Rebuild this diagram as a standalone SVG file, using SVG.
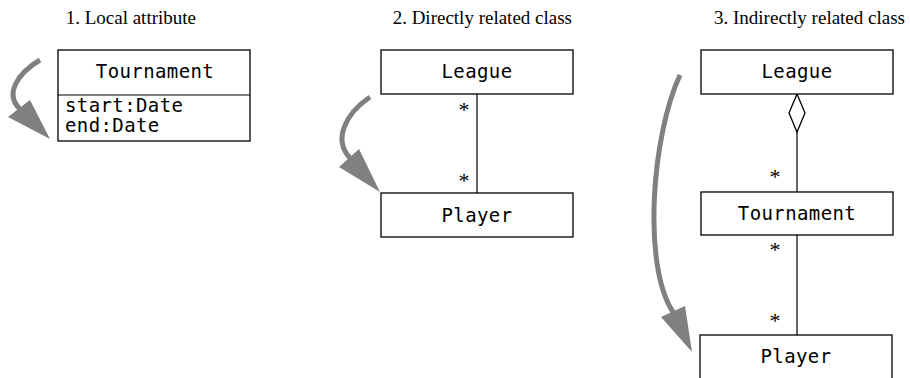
<svg xmlns="http://www.w3.org/2000/svg" width="910" height="378" viewBox="0 0 910 378">
<style>
.title{font-family:"Liberation Serif","Times New Roman",serif;font-size:19px;text-anchor:end;fill:#000}
.mono{font-family:"DejaVu Sans Mono","Liberation Mono",monospace;font-size:19px;letter-spacing:0.4px;fill:#000}
.mid{text-anchor:middle}
.box{fill:#fff;stroke:#000;stroke-width:1.3}
.assoc{stroke:#000;stroke-width:1.2;fill:none}
.mult{font-family:"Liberation Serif","Times New Roman",serif;font-size:22px;text-anchor:middle;fill:#000}
.flow{stroke:#808080;stroke-width:5;fill:none}
.head{fill:#808080}
</style>
<rect width="910" height="378" fill="#fff"/>
<text class="title" x="196" y="24">1. Local attribute</text>
<text class="title" x="572" y="24">2. Directly related class</text>
<text class="title" x="905" y="24">3. Indirectly related class</text>

<g id="connectors">
  <line class="assoc" x1="477" y1="94" x2="477" y2="193"/>
  <text class="mult" x="464" y="117">*</text>
  <text class="mult" x="464" y="188">*</text>
  <polygon class="box" points="797,94 805,113 797,132 789,113"/>
  <line class="assoc" x1="797" y1="132" x2="797" y2="192"/>
  <line class="assoc" x1="797" y1="235" x2="797" y2="335"/>
  <text class="mult" x="775" y="184">*</text>
  <text class="mult" x="775" y="257">*</text>
  <text class="mult" x="775" y="328">*</text>
  <path class="flow" d="M40,60 C18,73 4,94 20,109"/>
  <polygon class="head" points="8,117 30,100 50,139"/>
  <path class="flow" d="M370,97 C345,114 333,140 350,158"/>
  <polygon class="head" points="339,167 359,149 380,192"/>
  <path class="flow" d="M680,75 C652,135 642,265 673,312"/>
  <polygon class="head" points="661,317 685,306 692,352"/>
</g>

<g id="tournament1">
  <rect class="box" x="58" y="50" width="192" height="91"/>
  <line class="assoc" x1="58" y1="95" x2="250" y2="95"/>
  <text class="mono mid" x="155" y="78">Tournament</text>
  <text class="mono" x="65" y="112">start:Date</text>
  <text class="mono" x="65" y="132">end:Date</text>
</g>

<g id="league2">
  <rect class="box" x="381" y="50" width="192" height="44"/>
  <text class="mono mid" x="477" y="78">League</text>
</g>
<g id="player2">
  <rect class="box" x="381" y="193" width="192" height="44"/>
  <text class="mono mid" x="477" y="222">Player</text>
</g>

<g id="league3">
  <rect class="box" x="701" y="50" width="192" height="44"/>
  <text class="mono mid" x="797" y="78">League</text>
</g>
<g id="tournament3">
  <rect class="box" x="701" y="192" width="192" height="43"/>
  <text class="mono mid" x="797" y="220">Tournament</text>
</g>
<g id="player3">
  <rect class="box" x="700" y="335" width="192" height="50"/>
  <text class="mono mid" x="796" y="363">Player</text>
</g>
</svg>
